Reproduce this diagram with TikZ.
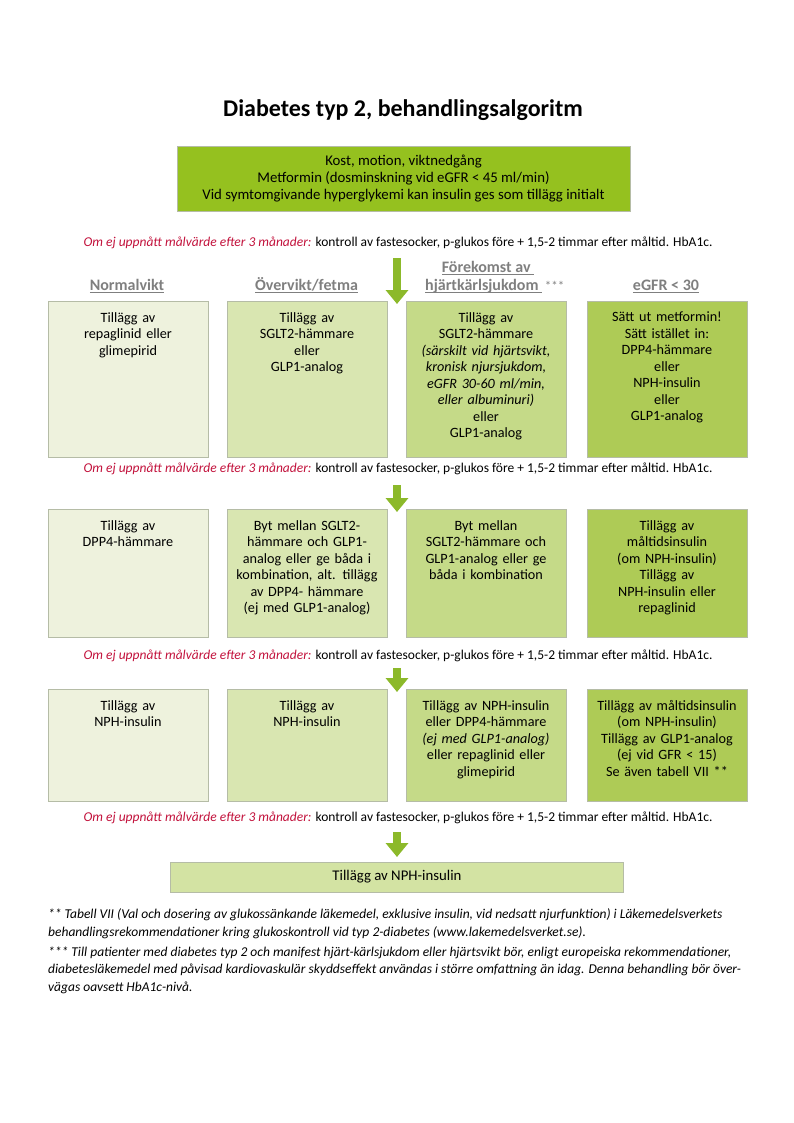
\documentclass[tikz,border=0pt]{standalone}
\usepackage{fontspec}
\setmainfont{Carlito}
\usetikzlibrary{arrows.meta}

\definecolor{topgreen}{HTML}{95C11F}
\definecolor{cA}{HTML}{EEF2DD}
\definecolor{cB}{HTML}{D9E6B1}
\definecolor{cC}{HTML}{C5DA88}
\definecolor{cD}{HTML}{AECB56}
\definecolor{cE}{HTML}{D3E3A3}
\definecolor{boxline}{HTML}{B5BCA6}
\definecolor{arrowgreen}{HTML}{8CB92A}
\definecolor{ckred}{HTML}{C2123C}
\definecolor{headgray}{HTML}{7F7F7F}

\newcommand{\chkline}{\textcolor{ckred}{\itshape Om ej uppnått målvärde efter 3 månader:} kontroll av fastesocker, p-glukos före + 1,5-2 timmar efter måltid. HbA1c.}
\newcommand{\hdul}[1]{\setbox0\hbox{#1}\rlap{\rule[-2.8pt]{\wd0}{0.9pt}}\box0}

\begin{document}
\begin{tikzpicture}[x=1pt,y=-1pt,
  colbox/.style={draw=boxline,line width=0.5pt},
  boxtext/.style={anchor=north,align=center,text width=156pt,inner sep=0pt,font=\fontsize{14.2}{16.5}\selectfont},
  chk/.style={inner sep=0pt,font=\fontsize{13.5}{15}\selectfont},
  colhead/.style={anchor=base,inner sep=0pt,text=headgray,font=\fontsize{16}{18}\selectfont\bfseries},
  greenarrow/.style={draw=arrowgreen,line width=8pt,-{Triangle[width=22pt,length=14pt]}},
  fnote/.style={anchor=north west,align=left,inner sep=0pt,font=\fontsize{13.5}{17.5}\selectfont\itshape}]
\useasboundingbox (0,0) rectangle (794,1123);

% title and start box
\node[inner sep=0pt,font=\fontsize{24}{28}\selectfont\bfseries] (title) at (403,110) {Diabetes typ 2, behandlingsalgoritm};
\filldraw[draw=boxline,line width=0.5pt,fill=topgreen] (177,146) rectangle (630,211);
\node[align=center,inner sep=0pt,font=\fontsize{14.8}{17}\selectfont] (start) at (403.5,179) {Kost, motion, viktnedgång\\Metformin (dosminskning vid eGFR < 45 ml/min)\\Vid symtomgivande hyperglykemi kan insulin ges som tillägg initialt};

% control lines between the steps
\node[chk] (chk1) at (398,243) {\chkline};
\node[chk] (chk2) at (398,469) {\chkline};
\node[chk] (chk3) at (398,656) {\chkline};
\node[chk] (chk4) at (398,818) {\chkline};

% column heads
\node[colhead] (hnorm) at (127,290) {\hdul{Normalvikt}};
\node[colhead] (hover) at (306.5,290) {\hdul{Övervikt/fetma}};
\node[colhead] (hcard1) at (488,272) {\hdul{Förekomst av }};
\node[colhead,anchor=base west] (hcard2) at (425,290) {\hdul{hjärtkärlsjukdom }\,{\mdseries\fontsize{13}{16}\selectfont ***}};
\node[colhead] (hegfr) at (666,290) {\hdul{eGFR < 30}};

% boxes, three rows of four columns
\foreach \xl/\cc in {48/cA,227/cB,406/cC,587/cD} {
  \filldraw[colbox,fill=\cc] (\xl,301) rectangle ++(160,156);
  \filldraw[colbox,fill=\cc] (\xl,509) rectangle ++(160,128);
  \filldraw[colbox,fill=\cc] (\xl,689) rectangle ++(160,112);
}

% row 1
\node[boxtext] (r1a) at (128,312) {Tillägg av\\repaglinid eller\\glimepirid};
\node[boxtext] (r1b) at (307,312) {Tillägg av\\SGLT2-hämmare\\eller\\GLP1-analog};
\node[boxtext] (r1c) at (486,312) {Tillägg av\\SGLT2-hämmare\\\textit{(särskilt vid hjärtsvikt,}\\\textit{kronisk njursjukdom,}\\\textit{eGFR 30-60 ml/min,}\\\textit{eller albuminuri)}\\eller\\GLP1-analog};
\node[boxtext] (r1d) at (667,312) {Sätt ut metformin!\\Sätt istället in:\\DPP4-hämmare\\eller\\NPH-insulin\\eller\\GLP1-analog};

% row 2
\node[boxtext] (r2a) at (128,520) {Tillägg av\\DPP4-hämmare};
\node[boxtext] (r2b) at (307,520) {Byt mellan SGLT2-\\hämmare och GLP1-\\analog eller ge båda i\\kombination, alt. tillägg\\av DPP4- hämmare\\(ej med GLP1-analog)};
\node[boxtext] (r2c) at (486,520) {Byt mellan\\SGLT2-hämmare och\\GLP1-analog eller ge\\båda i kombination};
\node[boxtext] (r2d) at (667,520) {Tillägg av\\måltidsinsulin\\(om NPH-insulin)\\Tillägg av\\NPH-insulin eller\\repaglinid};

% row 3
\node[boxtext] (r3a) at (128,700) {Tillägg av\\NPH-insulin};
\node[boxtext] (r3b) at (307,700) {Tillägg av\\NPH-insulin};
\node[boxtext] (r3c) at (486,700) {Tillägg av NPH-insulin\\eller DPP4-hämmare\\\textit{(ej med GLP1-analog)}\\eller repaglinid eller\\glimepirid};
\node[boxtext] (r3d) at (667,700) {Tillägg av måltidsinsulin\\(om NPH-insulin)\\Tillägg av GLP1-analog\\(ej vid GFR < 15)\\Se även tabell VII **};

% last step
\filldraw[colbox,fill=cE] (170,862) rectangle (623,892);
\node[inner sep=0pt,font=\fontsize{14.8}{17}\selectfont] (last) at (397,877) {Tillägg av NPH-insulin};

% arrows
\coordinate (a1s) at (397,258); \coordinate (a1e) at (397,304);
\coordinate (a2s) at (397,485); \coordinate (a2e) at (397,512);
\coordinate (a3s) at (397,668); \coordinate (a3e) at (397,692);
\coordinate (a4s) at (397,832); \coordinate (a4e) at (397,857);
\foreach \i in {1,...,4} {\draw[greenarrow] (a\i s) -- (a\i e);}

% footnotes
\node[fnote] (fn2) at (48,908.5) {** Tabell VII (Val och dosering av glukossänkande läkemedel, exklusive insulin, vid nedsatt njurfunktion) i Läkemedelsverkets\\behandlingsrekommendationer kring glukoskontroll vid typ 2-diabetes (www.lakemedelsverket.se).};
\node[fnote] (fn3) at (48,946.5) {*** Till patienter med diabetes typ 2 och manifest hjärt-kärlsjukdom eller hjärtsvikt bör, enligt europeiska rekommendationer,\\diabetesläkemedel med påvisad kardiovaskulär skyddseffekt användas i större omfattning än idag. Denna behandling bör över-\\vägas oavsett HbA1c-nivå.};
\end{tikzpicture}
\end{document}
